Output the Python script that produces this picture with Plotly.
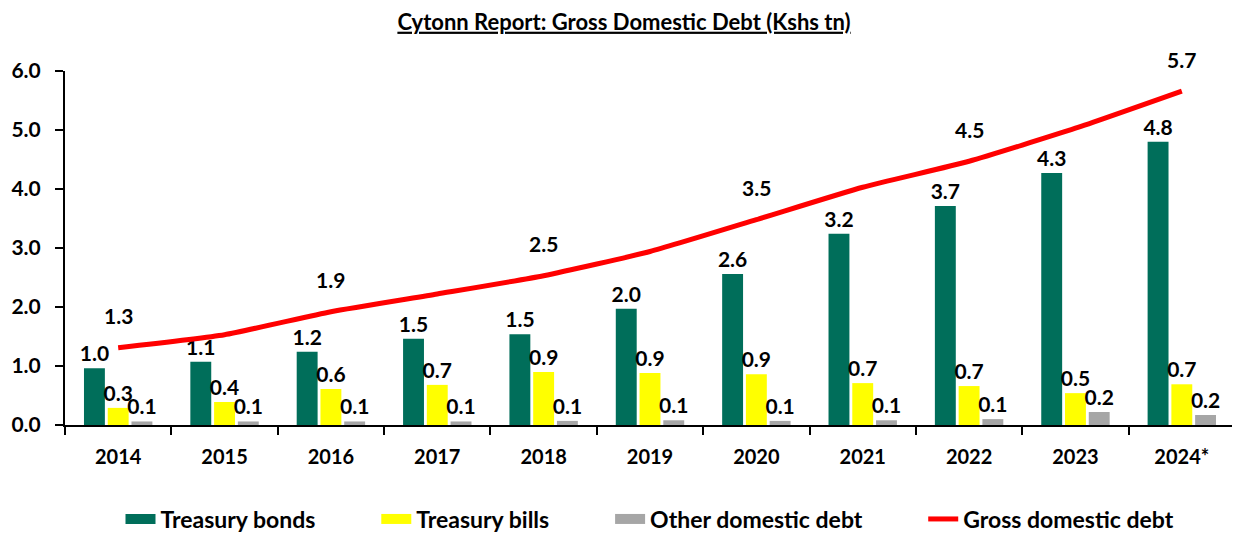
import plotly.graph_objects as go

years = ["2014", "2015", "2016", "2017", "2018", "2019", "2020", "2021", "2022", "2023", "2024*"]
treasury_bonds = [0.96, 1.07, 1.24, 1.46, 1.54, 1.97, 2.56, 3.24, 3.71, 4.27, 4.80]
treasury_bills = [0.29, 0.39, 0.61, 0.68, 0.90, 0.88, 0.86, 0.71, 0.66, 0.54, 0.69]
other_debt = [0.06, 0.06, 0.06, 0.06, 0.07, 0.08, 0.07, 0.08, 0.10, 0.22, 0.17]
gross_debt = [1.31, 1.53, 1.92, 2.22, 2.53, 2.94, 3.48, 4.03, 4.47, 5.03, 5.66]
gross_labelled = [True, False, True, False, True, False, True, False, True, False, True]
series_names = ["Treasury bonds", "Treasury bills", "Other domestic debt", "Gross domestic debt"]

FONT = "Lato"
GREEN = "#006E5A"
YELLOW = "#FFFF00"
GREY = "#A6A6A6"
RED = "#FF0000"
LBL = 21
PAD = "\u00a0" * 10

fig = go.Figure()

for name, vals, col in [(series_names[0], treasury_bonds, GREEN),
                        (series_names[1], treasury_bills, YELLOW),
                        (series_names[2], other_debt, GREY)]:
    fig.add_trace(go.Bar(
        x=years, y=vals, name=name, marker=dict(color=col, line=dict(width=0)),
        text=[f"{v:.1f}" for v in vals], textposition="outside",
        textfont=dict(family=FONT, size=LBL, color="black", weight="bold"),
        constraintext="none", cliponaxis=False, showlegend=False,
    ))

fig.add_trace(go.Scatter(
    x=years, y=gross_debt, mode="lines", name=series_names[3],
    line=dict(color=RED, width=5, shape="spline", smoothing=0.5),
    showlegend=False,
))

# legend entries
for i, (name, col, w) in enumerate(zip(series_names, [GREEN, YELLOW, GREY, RED], [13, 13, 13, 5])):
    fig.add_trace(go.Scatter(x=[years[0]], y=[None], mode="lines",
                             name=name + (PAD if i < 3 else ""),
                             line=dict(color=col, width=w)))

for i, (y, show) in enumerate(zip(gross_debt, gross_labelled)):
    if show:
        fig.add_annotation(x=i, y=y, text=f"<b>{y:.1f}</b>", showarrow=False,
                           yshift=32, font=dict(family=FONT, size=LBL, color="black"))

fig.update_layout(
    width=1232, height=526,
    margin=dict(l=57, r=5, t=63, b=109, autoexpand=False),
    paper_bgcolor="white", plot_bgcolor="white",
    barmode="group", bargap=0.33, bargroupgap=0.12,
    title=dict(text="<b><u>Cytonn Report: Gross Domestic Debt (Kshs tn)</u></b>",
               x=0.5, xanchor="center", y=1 - 14 / 526, yref="container", yanchor="middle",
               font=dict(family=FONT, size=22, color="black")),
    font=dict(family=FONT, color="black"),
    legend=dict(orientation="h", x=0.5, xanchor="center", yref="paper",
                y=-94 / 354, yanchor="middle",
                font=dict(family=FONT, size=23, color="black", weight="bold")),
    showlegend=True,
)

fig.update_xaxes(
    type="category", categoryorder="array", categoryarray=years, range=[-0.5, 10.5],
    showline=True, linecolor="black", linewidth=2,
    ticks="outside", tickson="boundaries", ticklen=8, tickcolor="black", tickwidth=2,
    tickfont=dict(family=FONT, size=20, color="black", weight="bold"),
    ticklabelstandoff=13, showgrid=False, zeroline=False,
)
fig.update_yaxes(
    range=[0, 6], dtick=1, tickformat=".1f", showline=True, linecolor="black", linewidth=2,
    ticks="outside", ticklen=8, tickcolor="black", tickwidth=2,
    tickfont=dict(family=FONT, size=LBL, color="black", weight="bold"),
    ticklabelstandoff=10, showgrid=False, zeroline=False,
)

fig.write_html("out.html")
